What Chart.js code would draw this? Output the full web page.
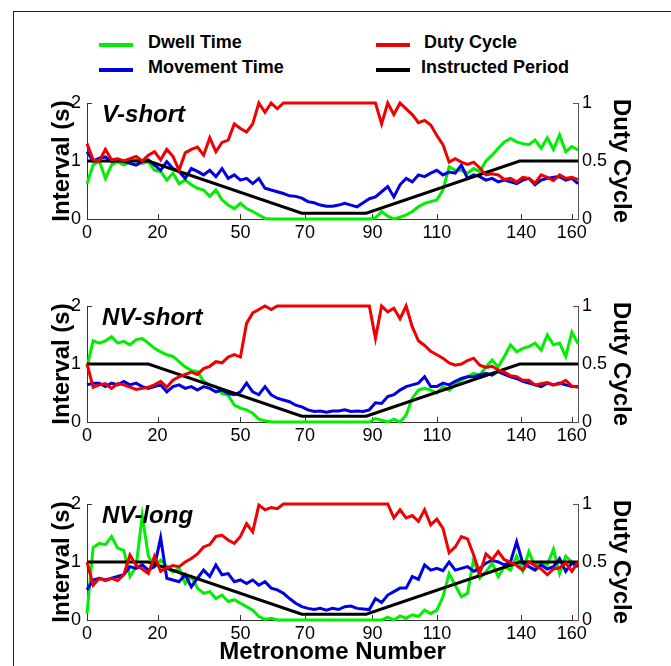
<!DOCTYPE html>
<html>
<head>
<meta charset="utf-8">
<title>Interval and duty cycle per metronome number</title>
<script src="https://cdn.jsdelivr.net/npm/chart.js@4.4.0/dist/chart.umd.min.js"></script>
<style>
    html, body { margin: 0; padding: 0; background: #fff; }
    body { width: 671px; height: 666px; position: relative; overflow: hidden;
           font-family: "Liberation Sans", Arial, sans-serif; }
    .frame { position: absolute; left: 13px; top: 11px; width: 700px; height: 700px;
             border-left: 1px solid #222; border-top: 1px solid #222; }
    canvas { position: absolute; left: 0; }
    .legend-text { position: absolute; font-weight: bold; font-size: 18px; line-height: 20px;
                   color: #000; white-space: nowrap; }
    .swatch { position: absolute; width: 34px; height: 4px; }
</style>
</head>
<body>
<div class="frame"></div>

<!-- Légende commune aux trois panneaux -->
<div class="swatch" style="left:99px;top:43px;background:#00ee00"></div>
<div class="legend-text" style="left:148px;top:32px">Dwell Time</div>
<div class="swatch" style="left:99px;top:68px;background:#0000e0"></div>
<div class="legend-text" style="left:148px;top:57px">Movement Time</div>
<div class="swatch" style="left:376px;top:43px;background:#f00000"></div>
<div class="legend-text" style="left:424px;top:32px">Duty Cycle</div>
<div class="swatch" style="left:376px;top:68px;background:#000"></div>
<div class="legend-text" style="left:421px;top:57px">Instructed Period</div>

<canvas id="panel1" width="671" height="170" style="top:80px"></canvas>
<canvas id="panel2" width="671" height="170" style="top:283px"></canvas>
<canvas id="panel3" width="671" height="186" style="top:480px"></canvas>

<script>
// Axe commun
const metronome = [
    0, 2, 4, 6, 8, 10, 12, 14, 16, 18,
    20, 22, 24, 26, 28, 30, 32, 34, 36, 38,
    40, 42, 44, 46, 48, 50, 52, 54, 56, 58,
    60, 62, 64, 66, 68, 70, 72, 74, 76, 78,
    80, 82, 84, 86, 88, 90, 92, 94, 96, 98,
    100, 102, 104, 106, 108, 110, 112, 114, 116, 118,
    120, 122, 124, 126, 128, 130, 132, 134, 136, 138,
    140, 142, 144, 146, 148, 150, 152, 154, 156, 158,
    160
];
const tickPositions = [0, 23, 50, 71, 93, 114, 141.5, 158];
const tickLabels = ['0', '20', '50', '70', '90', '110', '140', '160'];

// Période instruite (s)
const periodX = [0, 20, 70, 91, 141, 160];
const periodY = [1, 1, 0.1, 0.1, 1, 1];

// V-short
const vShortDwell = [
    0.61, 0.93, 1.00, 0.70, 0.93, 0.99, 0.93, 0.99, 1.02, 0.96,
    0.99, 0.84, 0.82, 0.67, 0.79, 0.61, 0.67, 0.59, 0.53, 0.50,
    0.39, 0.50, 0.33, 0.24, 0.18, 0.27, 0.18, 0.13, 0.07, 0.01,
    0, 0, 0, 0, 0, 0, 0, 0, 0, 0,
    0, 0, 0, 0, 0, 0, 0, 0.02, 0.13, 0.05,
    0.00, 0.03, 0.07, 0.13, 0.21, 0.27, 0.30, 0.33, 0.50, 0.90,
    0.84, 0.84, 0.79, 0.87, 0.82, 1.00, 1.10, 1.22, 1.33, 1.39,
    1.33, 1.30, 1.28, 1.36, 1.22, 1.40, 1.20, 1.45, 1.16, 1.25,
    1.19
];
const vShortMove = [
    1.16, 1.00, 1.05, 1.07, 0.99, 1.02, 0.99, 0.96, 0.93, 0.99,
    1.02, 0.93, 0.84, 0.99, 0.87, 0.82, 0.70, 0.87, 0.82, 0.76,
    0.84, 0.73, 0.87, 0.70, 0.76, 0.67, 0.70, 0.61, 0.70, 0.53,
    0.50, 0.47, 0.44, 0.40, 0.39, 0.36, 0.30, 0.28, 0.24, 0.22,
    0.22, 0.24, 0.27, 0.24, 0.21, 0.28, 0.35, 0.38, 0.47, 0.56,
    0.38, 0.59, 0.70, 0.64, 0.76, 0.73, 0.79, 0.84, 0.76, 0.81,
    0.79, 0.93, 0.70, 0.76, 0.73, 0.67, 0.70, 0.64, 0.67, 0.64,
    0.61, 0.67, 0.70, 0.59, 0.67, 0.70, 0.72, 0.73, 0.67, 0.70,
    0.61
];
const vShortDuty = [
    0.65, 0.51, 0.50, 0.60, 0.51, 0.52, 0.50, 0.52, 0.54, 0.50,
    0.55, 0.58, 0.51, 0.60, 0.54, 0.42, 0.57, 0.60, 0.62, 0.55,
    0.70, 0.58, 0.66, 0.68, 0.82, 0.78, 0.75, 0.82, 1.00, 0.92,
    1.00, 0.95, 1, 1, 1, 1, 1, 1, 1, 1,
    1, 1, 1, 1, 1, 1, 1, 1, 0.82, 1.00,
    0.90, 1.00, 0.95, 0.90, 0.83, 0.85, 0.81, 0.72, 0.64, 0.49,
    0.52, 0.49, 0.47, 0.49, 0.44, 0.38, 0.39, 0.38, 0.34, 0.35,
    0.32, 0.36, 0.35, 0.31, 0.38, 0.36, 0.33, 0.38, 0.35, 0.36,
    0.34
];

// NV-short
const nvShortDwell = [
    0.95, 1.40, 1.36, 1.40, 1.47, 1.36, 1.39, 1.33, 1.42, 1.44,
    1.36, 1.27, 1.21, 1.16, 1.13, 1.04, 0.95, 0.89, 0.87, 0.70,
    0.64, 0.61, 0.49, 0.46, 0.29, 0.24, 0.21, 0.15, 0.05, 0.02,
    0, 0, 0, 0, 0, 0, 0, 0, 0, 0,
    0, 0, 0, 0, 0, 0, 0, 0.06, 0.03, 0.00,
    0.05, 0.00, 0.12, 0.41, 0.55, 0.58, 0.55, 0.50, 0.61, 0.55,
    0.64, 0.72, 0.78, 0.84, 0.81, 0.95, 1.07, 0.95, 1.13, 1.33,
    1.21, 1.27, 1.30, 1.36, 1.24, 1.50, 1.33, 1.36, 1.13, 1.55,
    1.35
];
const nvShortMove = [
    0.64, 0.67, 0.67, 0.61, 0.67, 0.64, 0.70, 0.64, 0.67, 0.61,
    0.58, 0.61, 0.64, 0.52, 0.61, 0.64, 0.58, 0.61, 0.55, 0.61,
    0.58, 0.52, 0.55, 0.49, 0.47, 0.52, 0.67, 0.52, 0.47, 0.61,
    0.47, 0.41, 0.38, 0.35, 0.29, 0.26, 0.21, 0.18, 0.19, 0.17,
    0.19, 0.19, 0.21, 0.18, 0.19, 0.18, 0.21, 0.33, 0.32, 0.44,
    0.47, 0.55, 0.61, 0.64, 0.67, 0.78, 0.61, 0.61, 0.67, 0.64,
    0.70, 0.75, 0.78, 0.78, 0.81, 0.84, 0.81, 0.87, 0.82, 0.78,
    0.75, 0.70, 0.67, 0.64, 0.61, 0.67, 0.64, 0.67, 0.64, 0.61,
    0.61
];
const nvShortDuty = [
    0.50, 0.30, 0.32, 0.33, 0.29, 0.33, 0.32, 0.30, 0.28, 0.29,
    0.30, 0.32, 0.35, 0.30, 0.36, 0.39, 0.41, 0.43, 0.41, 0.46,
    0.48, 0.52, 0.51, 0.56, 0.58, 0.56, 0.85, 0.94, 0.97, 1.00,
    0.97, 1, 1, 1, 1, 1, 1, 1, 1, 1,
    1, 1, 1, 1, 1, 1, 1, 0.72, 1.00, 0.95,
    0.98, 0.89, 1.00, 0.82, 0.70, 0.66, 0.61, 0.58, 0.55, 0.51,
    0.49, 0.50, 0.53, 0.55, 0.49, 0.47, 0.48, 0.45, 0.43, 0.40,
    0.39, 0.36, 0.36, 0.32, 0.33, 0.34, 0.32, 0.33, 0.36, 0.31,
    0.30
];

// NV-long
const nvLongDwell = [
    0.11, 1.25, 1.32, 1.30, 1.44, 1.24, 1.20, 0.75, 0.92, 1.80,
    1.10, 0.92, 1.03, 0.92, 0.83, 0.89, 0.63, 0.75, 0.55, 0.46,
    0.49, 0.37, 0.43, 0.32, 0.35, 0.29, 0.23, 0.17, 0.06, 0.01,
    0.03, 0, 0, 0, 0, 0, 0, 0, 0, 0,
    0, 0, 0, 0, 0, 0, 0, 0, 0, 0.05,
    0.00, 0.07, 0.03, 0.09, 0.06, 0.17, 0.11, 0.17, 0.40, 0.80,
    0.60, 0.40, 0.46, 1.05, 0.72, 0.83, 0.98, 0.75, 0.92, 0.86,
    1.10, 0.85, 1.18, 0.92, 1.00, 0.95, 1.22, 0.80, 1.10, 1.00,
    0.95
];
const nvLongMove = [
    0.52, 0.69, 0.72, 0.69, 0.72, 0.75, 0.78, 0.92, 0.89, 0.95,
    0.86, 0.92, 1.42, 0.72, 0.69, 0.66, 0.78, 0.57, 0.72, 0.86,
    0.75, 0.95, 0.78, 0.80, 0.66, 0.69, 0.63, 0.69, 0.60, 0.66,
    0.55, 0.52, 0.46, 0.37, 0.29, 0.23, 0.20, 0.18, 0.20, 0.17,
    0.20, 0.18, 0.23, 0.24, 0.20, 0.19, 0.18, 0.37, 0.30, 0.43,
    0.49, 0.55, 0.55, 0.75, 0.70, 0.95, 0.86, 0.89, 0.85, 1.00,
    0.86, 0.89, 0.92, 0.84, 0.89, 0.98, 1.03, 1.00, 0.95, 1.00,
    1.35, 0.98, 0.92, 0.86, 0.95, 0.88, 0.92, 1.06, 0.84, 0.98,
    0.92
];
const nvLongDuty = [
    0.50, 0.30, 0.36, 0.34, 0.36, 0.34, 0.39, 0.56, 0.47, 0.44,
    0.40, 0.55, 0.42, 0.45, 0.47, 0.46, 0.50, 0.53, 0.57, 0.63,
    0.65, 0.72, 0.73, 0.69, 0.66, 0.72, 0.83, 0.76, 0.99, 0.95,
    0.97, 0.96, 1, 1, 1, 1, 1, 1, 1, 1,
    1, 1, 1, 1, 1, 1, 1, 1, 1, 1.00,
    0.88, 0.95, 0.88, 0.90, 0.85, 0.95, 0.82, 0.87, 0.79, 0.58,
    0.63, 0.72, 0.70, 0.56, 0.40, 0.57, 0.52, 0.59, 0.52, 0.50,
    0.47, 0.43, 0.50, 0.47, 0.44, 0.39, 0.44, 0.45, 0.49, 0.42,
    0.50
];

const FONT = '"Liberation Sans", Arial, Helvetica, sans-serif';
Chart.defaults.font.family = FONT;
Chart.defaults.color = '#000';

const toPoints = (xs, ys) => xs.map((x, i) => ({ x: x, y: ys[i] }));

// Petites graduations tournées vers l'intérieur (style MATLAB)
const innerTicks = {
    id: 'innerTicks',
    beforeDatasetsDraw(chart) {
        const { ctx, chartArea: a, scales } = chart;
        const seg = (x1, y1, x2, y2) => {
            ctx.beginPath(); ctx.moveTo(x1, y1); ctx.lineTo(x2, y2); ctx.stroke();
        };
        ctx.save();
        ctx.lineWidth = 1;
        ctx.strokeStyle = '#333';
        scales.x.ticks.forEach(t => {
            const px = Math.round(scales.x.getPixelForValue(t.value)) + 0.5;
            seg(px, a.bottom, px, a.bottom - 5);
        });
        scales.y.ticks.forEach(t => {
            const py = Math.round(scales.y.getPixelForValue(t.value)) + 0.5;
            seg(a.left, py, a.left + 5, py);
        });
        ctx.strokeStyle = '#dd2222';
        scales.y1.ticks.forEach(t => {
            const py = Math.round(scales.y1.getPixelForValue(t.value)) + 0.5;
            seg(a.right, py, a.right - 5, py);
        });
        ctx.restore();
    }
};

// Nom de la condition dans le coin haut gauche
const panelLabel = {
    id: 'panelLabel',
    afterDatasetsDraw(chart, args, opts) {
        const { ctx, chartArea: a } = chart;
        ctx.save();
        ctx.font = 'italic bold 24px ' + FONT;
        ctx.fillStyle = '#000';
        ctx.textBaseline = 'alphabetic';
        ctx.fillText(opts.text, a.left + 15, a.top + 19);
        ctx.restore();
    }
};

function makePanel(canvasId, label, dwell, move, duty, topPad, xHeight, showXTitle) {
    const ctx = document.getElementById(canvasId).getContext('2d');
    const line = (color) => ({
        borderColor: color,
        backgroundColor: color,
        borderWidth: 3,
        pointRadius: 0,
        tension: 0,
        fill: false,
        clip: 4
    });
    return new Chart(ctx, {
        type: 'line',
        data: {
            datasets: [
                Object.assign({ label: 'Duty Cycle', data: toPoints(metronome, duty), yAxisID: 'y1' }, line('#f00000')),
                Object.assign({ label: 'Instructed Period', data: toPoints(periodX, periodY), yAxisID: 'y' }, line('#000000')),
                Object.assign({ label: 'Movement Time', data: toPoints(metronome, move), yAxisID: 'y' }, line('#0000e0')),
                Object.assign({ label: 'Dwell Time', data: toPoints(metronome, dwell), yAxisID: 'y' }, line('#00ee00'))
            ]
        },
        options: {
            responsive: false,
            animation: false,
            layout: { padding: { top: topPad, left: 0, right: 0, bottom: 0 } },
            plugins: {
                legend: { display: false },
                tooltip: { enabled: false },
                panelLabel: { text: label }
            },
            scales: {
                x: {
                    type: 'linear',
                    min: 0,
                    max: 160,
                    afterBuildTicks: s => { s.ticks = tickPositions.map(v => ({ value: v })); },
                    afterFit: s => { s.height = xHeight; },
                    grid: { display: false, drawTicks: false },
                    border: { display: true, color: '#333', width: 1 },
                    ticks: {
                        autoSkip: false,
                        maxRotation: 0,
                        padding: 3,
                        color: '#000',
                        font: { size: 18 },
                        callback: (v, i) => tickLabels[i]
                    },
                    title: {
                        display: showXTitle,
                        text: 'Metronome Number',
                        color: '#000',
                        font: { size: 24, weight: 'bold', lineHeight: 1.1 },
                        padding: { top: 0, bottom: 0 }
                    }
                },
                y: {
                    position: 'left',
                    min: 0,
                    max: 2,
                    afterFit: s => { s.width = 87; },
                    grid: { display: false, drawTicks: false },
                    border: { display: true, color: '#333', width: 1 },
                    ticks: { stepSize: 1, padding: 6, color: '#000', font: { size: 18 },
                             callback: v => String(v) },
                    title: {
                        display: true,
                        text: 'Interval (s)',
                        color: '#000',
                        font: { size: 24, weight: 'bold' },
                        padding: { top: 48, bottom: 0 }
                    }
                },
                y1: {
                    position: 'right',
                    min: 0,
                    max: 1,
                    afterFit: s => { s.width = 93; },
                    grid: { display: false, drawTicks: false },
                    border: { display: true, color: '#555', width: 1 },
                    ticks: { stepSize: 0.5, padding: 4, color: '#000', font: { size: 18 },
                             callback: v => String(v) },
                    title: {
                        display: true,
                        text: 'Duty Cycle',
                        color: '#000',
                        font: { size: 24, weight: 'bold' },
                        padding: { top: 36, bottom: 0 }
                    }
                }
            }
        },
        plugins: [innerTicks, panelLabel]
    });
}

makePanel('panel1', 'V-short', vShortDwell, vShortMove, vShortDuty, 23, 31, false);
makePanel('panel2', 'NV-short', nvShortDwell, nvShortMove, nvShortDuty, 23, 31, false);
makePanel('panel3', 'NV-long', nvLongDwell, nvLongMove, nvLongDuty, 24, 46, true);
</script>
</body>
</html>
